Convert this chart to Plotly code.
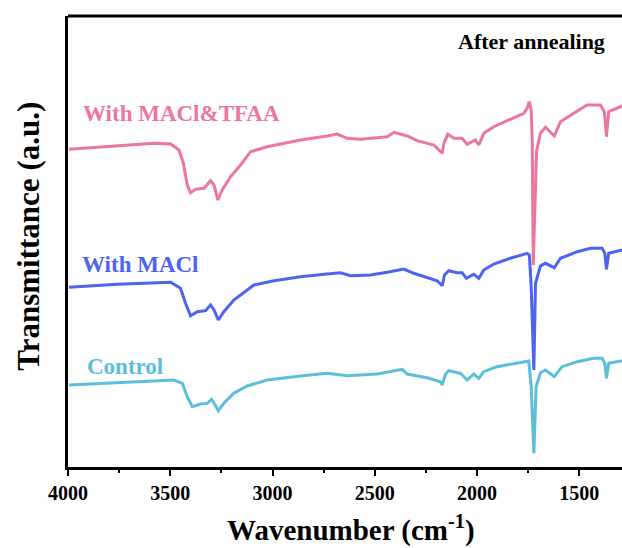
import plotly.graph_objects as go

# FTIR spectra after annealing (transmittance, arbitrary units, offset per sample)
wn_tfaa = [3995, 3841, 3677, 3580, 3498, 3457, 3436, 3417, 3401, 3376, 3335, 3303, 3286, 3267,
           3246, 3205, 3156, 3107, 3026, 2944, 2863, 2733, 2684, 2635, 2570, 2439, 2406, 2341,
           2293, 2211, 2170, 2162, 2143, 2113, 2073, 2048, 2008, 1991, 1967, 1918, 1837, 1771,
           1755, 1745, 1735, 1730, 1725, 1709, 1690, 1665, 1622, 1592, 1527, 1462, 1397, 1377,
           1367, 1356, 1291]
t_tfaa = [317.7, 319.7, 321.7, 323.7, 323.0, 317.0, 304.0, 282.0, 274.3, 277.7, 278.7, 286.3,
          282.0, 267.0, 277.0, 290.3, 302.0, 315.3, 320.3, 323.7, 327.0, 331.0, 333.0, 328.7,
          327.7, 330.3, 334.7, 331.0, 326.3, 322.0, 313.7, 323.7, 332.7, 328.7, 328.7, 322.7,
          327.0, 322.0, 333.7, 340.3, 347.7, 353.7, 358.7, 365.3, 357.0, 327.0, 202.0, 315.3,
          333.7, 339.7, 331.0, 345.3, 353.7, 362.0, 362.0, 355.3, 330.3, 355.3, 361.0]

wn_macl = [3995, 3759, 3498, 3450, 3425, 3401, 3368, 3327, 3303, 3286, 3265, 3238, 3189, 3140,
           3091, 2993, 2863, 2733, 2668, 2619, 2521, 2439, 2358, 2309, 2244, 2195, 2170, 2159,
           2138, 2097, 2073, 2052, 2016, 1991, 1967, 1918, 1837, 1755, 1744, 1735, 1722, 1714,
           1690, 1665, 1622, 1592, 1510, 1445, 1388, 1375, 1367, 1356, 1291]
t_macl = [179.7, 182.7, 184.7, 178.7, 163.7, 151.3, 155.3, 156.3, 162.0, 157.0, 147.0, 155.3,
          167.0, 174.3, 182.0, 186.3, 190.3, 193.0, 194.3, 191.3, 192.0, 194.7, 198.0, 193.7,
          189.3, 186.3, 181.3, 192.0, 196.3, 194.3, 194.3, 188.7, 192.7, 188.7, 197.0, 203.0,
          208.7, 213.7, 212.0, 180.3, 97.0, 183.7, 201.0, 203.7, 199.3, 208.7, 215.3, 218.7,
          218.7, 213.7, 197.7, 213.7, 217.0]

wn_ctrl = [3995, 3759, 3482, 3441, 3417, 3392, 3352, 3319, 3298, 3283, 3265, 3238, 3189, 3124,
           3026, 2863, 2733, 2635, 2488, 2366, 2341, 2244, 2179, 2170, 2154, 2138, 2081, 2048,
           2016, 1991, 1967, 1902, 1820, 1747, 1735, 1722, 1711, 1690, 1665, 1622, 1584, 1510,
           1429, 1388, 1375, 1367, 1356, 1291]
t_ctrl = [82.0, 84.3, 87.0, 83.7, 70.3, 60.3, 63.0, 63.7, 67.7, 63.0, 56.3, 63.7, 73.7, 81.0,
          87.0, 91.0, 93.7, 91.3, 93.0, 97.7, 93.0, 89.3, 85.3, 82.0, 93.0, 96.3, 93.7, 87.0,
          93.0, 88.7, 95.3, 100.3, 103.7, 106.0, 80.3, 13.7, 80.3, 94.3, 97.0, 90.3, 100.3,
          105.3, 108.7, 108.7, 103.7, 88.7, 103.7, 106.3]

x_ticks = [4000, 3500, 3000, 2500, 2000, 1500]

PINK = "#EC75A1"
BLUE = "#4D63F2"
CYAN = "#5BBFDC"
SERIF = "Liberation Serif, Times New Roman, serif"

fig = go.Figure()
for wn, t, col in [(wn_ctrl, t_ctrl, CYAN), (wn_macl, t_macl, BLUE), (wn_tfaa, t_tfaa, PINK)]:
    fig.add_trace(go.Scatter(x=wn, y=t, mode="lines",
                             line=dict(color=col, width=3), showlegend=False))

labels = [("With MACl&TFAA", 3935, 354, PINK),
          ("With MACl", 3940, 203, BLUE),
          ("Control", 3915, 101, CYAN)]
for txt, x, y, col in labels:
    fig.add_annotation(x=x, y=y, text=txt, showarrow=False, xanchor="left", yanchor="middle",
                       font=dict(family=SERIF, size=23, color=col, weight="bold"))

fig.add_annotation(x=1735, y=426, text="After annealing", showarrow=False,
                   xanchor="center", yanchor="middle",
                   font=dict(family=SERIF, size=22, color="black", weight="bold"))

# axis titles
fig.add_annotation(xref="paper", yref="paper", x=0.51, y=-0.137,
                   text="Wavenumber (cm<sup>-1</sup>)", showarrow=False,
                   xanchor="center", yanchor="middle",
                   font=dict(family=SERIF, size=29, color="black", weight="bold"))
fig.add_annotation(xref="paper", yref="paper", x=-0.072, y=0.511,
                   text="Transmittance (a.u.)", showarrow=False, textangle=-90,
                   xanchor="center", yanchor="middle",
                   font=dict(family=SERIF, size=31, color="black", weight="bold"))

# top frame line
fig.add_shape(type="line", xref="paper", yref="paper", x0=0, x1=1, y0=1, y1=1,
              line=dict(color="black", width=3))

fig.update_xaxes(range=[4000, 1291], tickvals=x_ticks, ticks="outside", ticklen=6,
                 tickwidth=2, tickcolor="black", showline=True, linecolor="black",
                 linewidth=3, showgrid=False, zeroline=False,
                 tickfont=dict(family=SERIF, size=20, color="black", weight="bold"),
                 minor=dict(dtick=250, tick0=0, ticks="outside", ticklen=3, tickwidth=2,
                            tickcolor="black", showgrid=False))
fig.update_yaxes(range=[0, 451], showticklabels=False, ticks="", showline=True,
                 linecolor="black", linewidth=3, showgrid=False, zeroline=False)

fig.update_layout(width=622, height=548, margin=dict(l=68, r=0, t=16, b=81),
                  paper_bgcolor="white", plot_bgcolor="white")

fig.write_html("out.html")
